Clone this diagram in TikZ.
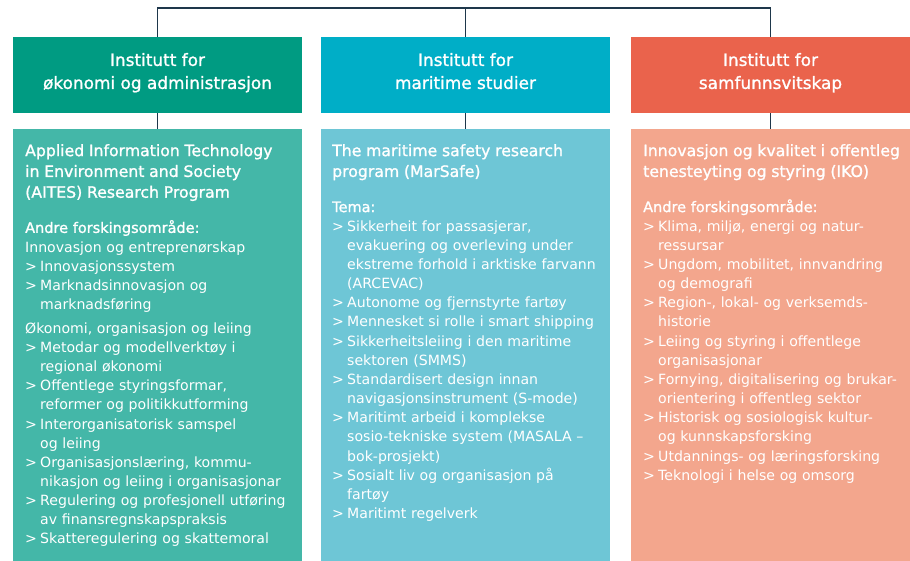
\documentclass[tikz,border=0pt]{standalone}
\usepackage{fontspec}
\setmainfont{DejaVu Sans}
\newfontfamily\semifont[FakeBold=1.2]{DejaVu Sans}
\newcommand\headfont{\semifont\fontsize{16.9}{23}\selectfont}
\newcommand\titlefont{\semifont\fontsize{15.7}{20.8}\selectfont}
\newcommand\subfont{\semifont\fontsize{14.5}{19.15}\selectfont}
\newcommand\bodyfont{\fontsize{14.1}{19.15}\selectfont}
\newcommand\progtitle[1]{{\titlefont #1\par}\vspace{16pt}}
\newcommand\subhead[1]{{\subfont #1\par}}
\newcommand\itm[1]{\par\hangindent=15pt\hangafter=1\noindent\makebox[15pt][l]{>}#1\par}
\definecolor{headoko}{HTML}{009B82}
\definecolor{headmar}{HTML}{00AEC7}
\definecolor{headsam}{HTML}{EA634C}
\definecolor{bodyoko}{HTML}{44B7A8}
\definecolor{bodymar}{HTML}{6EC6D6}
\definecolor{bodysam}{HTML}{F3A68D}
\definecolor{linkblue}{HTML}{1E374B}
\tikzset{
	head/.style={rectangle, inner sep=0pt, minimum width=289pt, minimum height=76pt, text depth=8pt, text=white, align=center, font=\headfont},
	field/.style={rectangle, inner sep=0pt, minimum width=289pt, minimum height=432pt},
	fieldtext/.style={anchor=north west, inner sep=0pt, text width=275pt, align=left, text=white, font=\bodyfont, execute at begin node={\parindent=0pt\hyphenpenalty=10000}},
	link/.style={draw=linkblue, line width=1.4pt}
}
\begin{document}
\begin{tikzpicture}[x=1pt, y=-1pt]
	\useasboundingbox (0, 0) rectangle (910, 561);
	\node[head, fill=headoko] at (157.5, 75) (h1) {Institutt for\\økonomi og administrasjon};
	\node[head, fill=headmar] at (465.5, 75) (h2) {Institutt for\\maritime studier};
	\node[head, fill=headsam, minimum width=279pt] at (770.5, 75) (h3) {Institutt for\\samfunnsvitskap};
	\node[field, fill=bodyoko] at (157.5, 345) (b1) {};
	\node[field, fill=bodymar] at (465.5, 345) (b2) {};
	\node[field, fill=bodysam, minimum width=279pt] at (770.5, 345) (b3) {};
	\coordinate (top) at (466, 8);
	\draw[link] (h1.north) |- (top) -| (h3.north);
	\draw[link] (h2.north) -- (h2.north |- top);
	\draw[link] (h1.south) -- (b1.north);
	\draw[link] (h2.south) -- (b2.north);
	\draw[link] (h3.south) -- (b3.north);
	\node[fieldtext] at (25, 144) (t1) {%
		\progtitle{Applied Information Technology\newline in Environment and Society\newline (AITES) Research Program}
		\subhead{Andre forskingsområde:}
		Innovasjon og entreprenørskap\par
		\itm{Innovasjonssystem}
		\itm{Marknadsinnovasjon og\newline marknadsføring}
		\vspace{4.7pt}
		Økonomi, organisasjon og leiing\par
		\itm{Metodar og modellverktøy i\newline regional økonomi}
		\itm{Offentlege styringsformar,\newline reformer og politikkutforming}
		\itm{Interorganisatorisk samspel\newline og leiing}
		\itm{Organisasjonslæring, kommu-\newline nikasjon og leiing i organisasjonar}
		\itm{Regulering og profesjonell utføring\newline av finansregnskapspraksis}
		\itm{Skatteregulering og skattemoral}};
	\node[fieldtext] at (332, 144) (t2) {%
		\progtitle{The maritime safety research\newline program (MarSafe)}
		\subhead{Tema:}
		\itm{Sikkerheit for passasjerar,\newline evakuering og overleving under\newline ekstreme forhold i arktiske farvann\newline (ARCEVAC)}
		\itm{Autonome og fjernstyrte fartøy}
		\itm{Mennesket si rolle i smart shipping}
		\itm{Sikkerheitsleiing i den maritime\newline sektoren (SMMS)}
		\itm{Standardisert design innan\newline navigasjonsinstrument (S-mode)}
		\itm{Maritimt arbeid i komplekse\newline sosio-tekniske system (MASALA –\newline bok-prosjekt)}
		\itm{Sosialt liv og organisasjon på\newline fartøy}
		\itm{Maritimt regelverk}};
	\node[fieldtext] at (643, 144) (t3) {%
		\progtitle{Innovasjon og kvalitet i offentleg\newline tenesteyting og styring (IKO)}
		\subhead{Andre forskingsområde:}
		\itm{Klima, miljø, energi og natur-\newline ressursar}
		\itm{Ungdom, mobilitet, innvandring\newline og demografi}
		\itm{Region-, lokal- og verksemds-\newline historie}
		\itm{Leiing og styring i offentlege\newline organisasjonar}
		\itm{Fornying, digitalisering og brukar-\newline orientering i offentleg sektor}
		\itm{Historisk og sosiologisk kultur-\newline og kunnskapsforsking}
		\itm{Utdannings- og læringsforsking}
		\itm{Teknologi i helse og omsorg}};
\end{tikzpicture}
\end{document}
